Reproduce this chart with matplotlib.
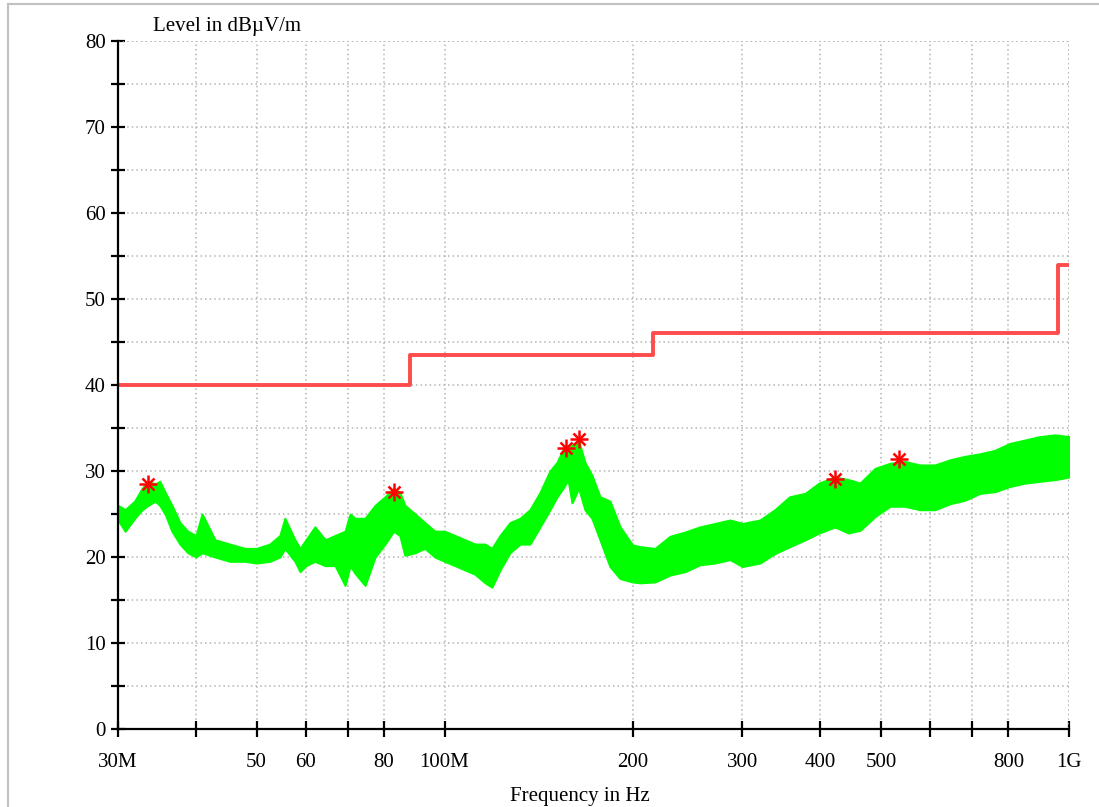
import numpy as np
import matplotlib
matplotlib.use('Agg')
import matplotlib.pyplot as plt
from matplotlib.lines import Line2D

plt.rcParams['font.family'] = ['Liberation Serif', 'DejaVu Serif']

# Messwerte (Huellkurve der Spur), Frequenz in MHz, Pegel in dBuV/m
freq = [30.0, 30.8, 31.9, 32.8, 33.5, 34.4, 35.0, 35.7, 36.6, 37.7, 38.8, 40.0,
        40.9, 42.9, 45.3, 47.9, 50.0, 52.5, 54.5, 55.5, 57.6, 58.7, 60.0, 62.0,
        64.4, 66.8, 69.3, 70.6, 71.9, 74.6, 77.4, 80.3, 82.9, 84.8, 86.4, 89.7,
        93.0, 96.5, 100.0, 103.9, 107.8, 111.9, 116.1, 119.1, 122.7, 127.3, 132.1,
        137.0, 142.2, 147.5, 151.4, 154.8, 157.7, 160.0, 164.0, 167.8, 172.2, 177.4,
        184.0, 191.0, 200.0, 205.6, 217.3, 229.6, 242.7, 256.5, 271.1, 286.5, 300.0,
        320.0, 338.0, 357.0, 378.0, 398.0, 422.0, 443.0, 463.0, 489.0, 517.0, 546.0,
        577.0, 610.0, 645.0, 681.0, 720.0, 761.0, 804.0, 850.0, 898.0, 950.0, 1000.0]

level_max = [26.0, 25.5, 26.5, 28.0, 28.8, 28.5, 28.8, 27.5, 26.0, 24.0, 23.0, 22.5,
             25.0, 22.0, 21.5, 21.0, 21.0, 21.5, 22.5, 24.5, 22.0, 21.0, 22.0, 23.5,
             22.0, 22.5, 23.0, 25.0, 24.5, 24.5, 26.0, 27.0, 28.0, 27.5, 26.0, 25.0,
             24.0, 23.0, 23.0, 22.5, 22.0, 21.5, 21.5, 21.0, 22.5, 24.0, 24.5,
             25.5, 27.5, 30.0, 31.0, 32.5, 32.5, 33.0, 33.5, 31.0, 29.5, 27.0,
             26.5, 23.5, 21.4, 21.2, 21.0, 22.4, 22.9, 23.5, 23.9, 24.3, 23.9,
             24.3, 25.5, 27.0, 27.4, 28.6, 29.3, 29.0, 28.6, 30.3, 30.9, 31.1,
             30.7, 30.7, 31.3, 31.7, 32.0, 32.4, 33.2, 33.6, 34.0, 34.2, 34.0]

level_min = [24.3, 23.0, 24.5, 25.5, 26.0, 26.5, 26.0, 25.0, 23.0, 21.5, 20.5, 20.0,
             20.5, 20.0, 19.5, 19.5, 19.3, 19.5, 20.0, 21.0, 19.5, 18.3, 19.0, 19.5,
             19.0, 19.0, 16.7, 19.0, 18.1, 16.7, 20.0, 21.5, 23.0, 22.5, 20.2, 20.5,
             21.0, 20.0, 19.5, 19.0, 18.5, 18.0, 17.0, 16.5, 18.5, 20.5, 21.5,
             21.5, 23.5, 25.5, 27.0, 28.0, 29.0, 26.3, 28.0, 25.5, 24.5, 22.0,
             18.9, 17.5, 17.1, 17.0, 17.1, 17.9, 18.3, 19.1, 19.3, 19.7, 18.9,
             19.3, 20.4, 21.2, 22.0, 22.8, 23.5, 22.8, 23.1, 24.7, 25.9, 25.9,
             25.5, 25.5, 26.2, 26.6, 27.4, 27.6, 28.2, 28.6, 28.8, 29.0, 29.3]

# Grenzwertlinie
limit_freq = [30, 88, 216, 960, 1000]
limit_level = [40, 43.5, 46, 54, 54]

# markierte Spitzenwerte
peak_freq = [33.5, 82.9, 156.5, 164.0, 422.0, 534.0]
peak_level = [28.5, 27.6, 32.7, 33.7, 29.1, 31.4]

xticks = [30, 40, 50, 60, 70, 80, 100, 200, 300, 400, 500, 600, 700, 800, 1000]
xlabels = ['30M', '', '50', '60', '', '80', '100M', '200', '300', '400', '500',
           '', '', '800', '1G']
yticks = list(range(0, 81, 5))
ylabels = [str(v) if v % 10 == 0 else '' for v in yticks]

fig = plt.figure(figsize=(10.99, 8.07), dpi=100)
ax = fig.add_axes([118 / 1099, 78 / 807, 951 / 1099, 688 / 807])

# grauer Rahmen
fig.add_artist(Line2D([8 / 1099, 8 / 1099], [0, 803 / 807], color='#c0c0c0', lw=1.5,
                      transform=fig.transFigure))
fig.add_artist(Line2D([8 / 1099, 1], [803 / 807, 803 / 807], color='#c0c0c0', lw=1.5,
                      transform=fig.transFigure))

ax.fill_between(freq, level_min, level_max, color='#00ff00', lw=1.5, zorder=3)
ax.step(limit_freq, limit_level, where='post', color='#ff4b4b', lw=2.8, zorder=4)
ax.plot(peak_freq, peak_level, '+', color='red', ms=13, mew=1.8, zorder=5)
ax.plot(peak_freq, peak_level, 'x', color='red', ms=9, mew=1.8, zorder=5)

ax.set_xscale('log')
ax.set_xlim(30, 1000)
ax.set_ylim(0, 80)
ax.set_xticks(xticks)
ax.set_xticklabels(xlabels)
ax.xaxis.set_minor_locator(matplotlib.ticker.NullLocator())
ax.set_yticks(yticks)
ax.set_yticklabels(ylabels)

ax.tick_params(axis='both', labelsize=15, width=1.6, color='black', zorder=6)
ax.tick_params(axis='y', direction='inout', length=10, pad=4)
ax.tick_params(axis='x', direction='inout', length=12, pad=11)

for side in ['top', 'right']:
    ax.spines[side].set_visible(False)
for side in ['left', 'bottom']:
    ax.spines[side].set_linewidth(1.6)
    ax.spines[side].set_zorder(6)

ax.grid(True, which='major', linestyle=(0, (1, 2)), color='#b4b4b4', lw=1.1, zorder=1)
ax.set_axisbelow(True)
# gepunktete Linien oben und rechts
ax.axhline(80, linestyle=(0, (1, 2)), color='#b4b4b4', lw=1.1, zorder=1)
ax.axvline(1000, linestyle=(0, (1, 2)), color='#b4b4b4', lw=1.1, zorder=1)

fig.text(153 / 1099, 1 - 26 / 807, 'Level in dB\u00b5V/m', fontsize=15, va='center', ha='left')
fig.text(580 / 1099, 1 - 797 / 807, 'Frequency in Hz', fontsize=15, va='center', ha='center')

fig.savefig('out.png', dpi=100)
